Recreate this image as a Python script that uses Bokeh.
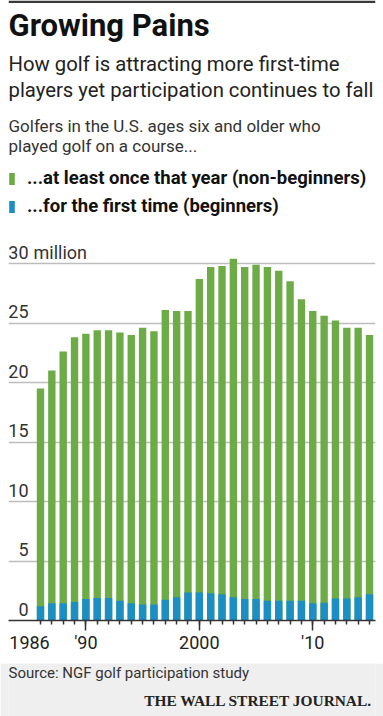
from bokeh.plotting import figure
from bokeh.models import ColumnDataSource, FixedTicker, Legend, LegendItem, Range1d
from bokeh.layouts import column
from bokeh.embed import file_html
from bokeh.resources import INLINE
from bokeh.core.properties import value

# ---------------- data ----------------
years = list(range(1986, 2016))
# total golfers (millions) who played at least once that year
total_golfers = [19.5, 21.0, 22.6, 23.8, 24.1, 24.4, 24.4, 24.2, 24.0, 24.6,
                 24.3, 26.1, 26.0, 26.0, 28.7, 29.7, 29.8, 30.4, 29.7, 29.9,
                 29.7, 29.4, 28.5, 27.0, 26.0, 25.6, 25.2, 24.6, 24.6, 24.0]
# beginners (millions) who played for the first time
beginners = [1.2, 1.45, 1.45, 1.55, 1.8, 1.9, 1.9, 1.65, 1.45, 1.35,
             1.35, 1.75, 1.95, 2.35, 2.35, 2.3, 2.2, 1.95, 1.8, 1.8,
             1.65, 1.65, 1.65, 1.65, 1.45, 1.5, 1.85, 1.85, 1.95, 2.2]
y_ticks = [0, 5, 10, 15, 20, 25, 30]
y_tick_labels = ["0", "5", "10", "15", "20", "25", "30"]
y_unit_label = "million"
x_label_years = [1986, 1990, 2000, 2010]
x_labels = ["1986", "'90", "2000", "'10"]
x_major_years = [1990, 2000, 2010]

# ---------------- styles / geometry ----------------
GREEN = "#6cab45"
BLUE = "#1b8ec3"
FONT = "Roboto"
MID = 0.35            # text centre above the baseline, in em
PX_PER_YEAR = 11.345
PX_PER_M = 11.9
W = 383
FRAME_W = 367
MAIN_H = 631          # page y 0 .. 631
FRAME_BOTTOM = 620    # page y of the zero line
LAB_H = 663 - MAIN_H  # x label panel: page y 631 .. 663
FOOT_H = 53           # page y 663 .. 716
x0 = 1986 - 32 / PX_PER_YEAR
x1 = x0 + FRAME_W / PX_PER_YEAR
y1 = FRAME_BOTTOM / PX_PER_M
xr = Range1d(x0, x1)


def X(px):  # page x pixel -> data x
    return x0 + (px - 8) / PX_PER_YEAR


def Y(py):  # page y pixel -> data y (main chart)
    return (FRAME_BOTTOM - py) / PX_PER_M


def blank(h, bg, y_end):
    fig = figure(width=W, height=h, x_range=xr, y_range=Range1d(0, y_end),
                 output_backend="svg", toolbar_location=None,
                 x_axis_location=None, y_axis_location=None,
                 min_border_left=8, min_border_right=8, min_border_top=0,
                 min_border_bottom=0, background_fill_color=bg,
                 border_fill_color=bg, outline_line_color=None)
    fig.grid.visible = False
    return fig


def txt(fig, x, y, s, size, style="normal", color="#222222", align="left", font=FONT):
    fig.text(x=[x], y=[y], text=[s], text_font=value(font),
             text_font_size=value(f"{size}px"), text_font_style=style,
             text_color=color, text_align=align, text_baseline="middle")


p = figure(width=W, height=MAIN_H, x_range=xr, y_range=Range1d(0, y1),
           output_backend="svg", toolbar_location=None, y_axis_location=None,
           min_border_left=8, min_border_right=8, min_border_top=0,
           min_border_bottom=MAIN_H - FRAME_BOTTOM)
p.outline_line_color = None
p.background_fill_color = "white"
p.border_fill_color = "white"
p.xgrid.visible = False
p.ygrid.ticker = FixedTicker(ticks=y_ticks[1:])
p.ygrid.grid_line_color = "#bdbdbd"
p.ygrid.grid_line_width = 1.5

# dark rule at the top of the page
p.quad(left=[x0], right=[x1], top=[y1], bottom=[Y(2.5)], fill_color="#3a3a3a",
       line_color=None)

src = ColumnDataSource(dict(year=years, total=total_golfers, beg=beginners))
g_r = p.vbar(x="year", top="total", bottom=0, width=0.65, source=src,
             fill_color=GREEN, line_color=None)
b_r = p.vbar(x="year", top="beg", bottom=0, width=0.65, source=src,
             fill_color=BLUE, line_color=None)

# x axis (line and ticks only; labels drawn in the panel below)
ax = p.xaxis[0]
ax.ticker = FixedTicker(ticks=x_major_years, minor_ticks=years)
ax.axis_line_color = "#333333"
ax.axis_line_width = 1.5
ax.major_tick_line_color = "#333333"
ax.major_tick_line_width = 1.5
ax.major_tick_out = 10
ax.major_tick_in = 0
ax.minor_tick_line_color = "#333333"
ax.minor_tick_line_width = 1.5
ax.minor_tick_out = 4
ax.minor_tick_in = 0
ax.major_label_standoff = 0
ax.major_label_text_font_size = "1px"
ax.major_label_overrides = {yr: "" for yr in x_major_years}

# y labels (inside the plot, above gridlines)
YL = 18
yl_src = ColumnDataSource(dict(x=[x0] * len(y_ticks), y=y_ticks, text=y_tick_labels))
p.text(x="x", y="y", text="text", source=yl_src, x_offset=20, y_offset=-(5 + MID * YL),
       text_align="right", text_baseline="middle", text_font=value(FONT),
       text_font_size=value(f"{YL}px"), text_color="#333333")
p.text(x=[x0], y=[y_ticks[-1]], text=[y_unit_label], x_offset=25,
       y_offset=-(5 + MID * YL), text_align="left", text_baseline="middle",
       text_font=value(FONT), text_font_size=value(f"{YL}px"), text_color="#333333")

# titles (page baselines)
txt(p, X(8), Y(36 - MID * 31), "Growing Pains", 31, "bold", "#111111")
txt(p, X(8), Y(71 - MID * 20.3), "How golf is attracting more first-time", 20.3)
txt(p, X(8), Y(96.5 - MID * 20.3), "players yet participation continues to fall", 20.3)
txt(p, X(8), Y(131 - MID * 17), "Golfers in the U.S. ages six and older who", 17,
    color="#333333")
txt(p, X(8), Y(151.5 - MID * 17), "played golf on a course...", 17, color="#333333")

legend = Legend(items=[
    LegendItem(label="...at least once that year (non-beginners)", renderers=[g_r]),
    LegendItem(label="...for the first time (beginners)", renderers=[b_r]),
], location=(0, 403), orientation="vertical", padding=0, margin=0,
    spacing=6, glyph_width=7, glyph_height=15, label_height=15,
    label_standoff=12, label_text_font=FONT, label_text_font_style="bold",
    label_text_font_size="18.5px", label_text_color="#111111",
    border_line_color=None, background_fill_alpha=0)
p.add_layout(legend)

# x tick labels panel
lab = blank(LAB_H, "white", LAB_H)
x_label_dx = [-11, 0, 0, 0]
xl_src = ColumnDataSource(dict(x=x_label_years,
                               y=[663 - (648 - MID * 18)] * len(x_label_years),
                               text=x_labels, dx=x_label_dx))
lab.text(x="x", y="y", text="text", source=xl_src, x_offset="dx",
         text_align="center", text_baseline="middle", text_font=value(FONT),
         text_font_size=value("18px"), text_color="#222222")

# footer band
foot = blank(FOOT_H, "#efefef", FOOT_H)
txt(foot, X(8), 716 - (678 - MID * 15), "Source: NGF golf participation study", 15,
    color="#333333")
txt(foot, X(372), 716 - (705.5 - 0.34 * 15.4), "THE WALL STREET JOURNAL.", 15.4, "bold",
    "#222222", align="right", font="Liberation Serif")

layout = column(p, lab, foot, spacing=0)
open("out.html", "w").write(file_html(layout, INLINE))
